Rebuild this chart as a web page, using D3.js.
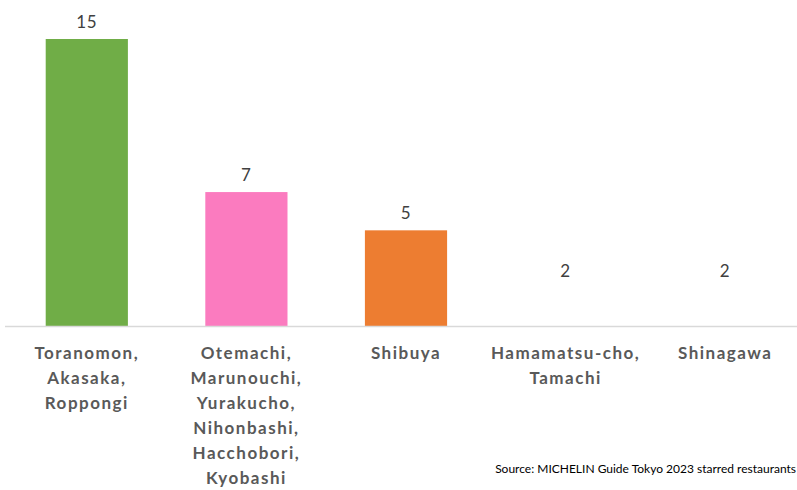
<!DOCTYPE html>
<html>
<head>
<meta charset="utf-8">
<script src="https://cdn.jsdelivr.net/npm/d3@7"></script>
<style>
  html, body { margin: 0; padding: 0; background: #fff; overflow: hidden; }
  svg { display: block; }
</style>
</head>
<body>
<svg id="chart" width="797" height="490"></svg>
<script>
// Starred restaurants by Tokyo area
const areas = [
  ["Toranomon,", "Akasaka,", "Roppongi"],
  ["Otemachi,", "Marunouchi,", "Yurakucho,", "Nihonbashi,", "Hacchobori,", "Kyobashi"],
  ["Shibuya"],
  ["Hamamatsu-cho,", "Tamachi"],
  ["Shinagawa"]
];
const counts = [15, 7, 5, 2, 2];
const barColors = ["#70ad47", "#fb7bbf", "#ed7d31", "none", "none"];
const sourceNote = "Source: MICHELIN Guide Tokyo 2023 starred restaurants";

const W = 797, H = 490;
const baseline = 326;
const svg = d3.select("#chart");

const x = d3.scaleBand()
  .domain(d3.range(counts.length))
  .range([7, 805])
  .paddingInner(0.485)
  .paddingOuter(0.2425);

const y = d3.scaleLinear()
  .domain([0, 15])
  .range([baseline, 39]);

// bars
svg.append("g").selectAll("rect")
  .data(counts)
  .join("rect")
  .attr("x", (d, i) => x(i))
  .attr("y", d => y(d))
  .attr("width", x.bandwidth())
  .attr("height", d => baseline - y(d))
  .attr("fill", (d, i) => barColors[i]);

// value labels
svg.append("g").selectAll("text")
  .data(counts)
  .join("text")
  .attr("x", (d, i) => x(i) + x.bandwidth() / 2)
  .attr("y", d => y(d) - 11)
  .attr("text-anchor", "middle")
  .attr("font-family", "Lato, 'Open Sans', sans-serif")
  .attr("font-size", 17)
  .attr("letter-spacing", 0.8)
  .attr("fill", "#404040")
  .text(d => d);

// category axis
const axis = svg.append("g")
  .attr("transform", `translate(0,${baseline})`)
  .call(d3.axisBottom(x).tickSize(0).tickFormat(""));
axis.select(".domain")
  .attr("d", `M5,0.5H${W}`)
  .attr("stroke", "#d9d9d9")
  .attr("stroke-width", 1.5);

const catLabels = svg.append("g").selectAll("text")
  .data(areas)
  .join("text")
  .attr("x", (d, i) => x(i) + x.bandwidth() / 2)
  .attr("y", 359)
  .attr("text-anchor", "middle")
  .attr("font-family", "Lato, 'Open Sans', sans-serif")
  .attr("font-weight", "bold")
  .attr("font-size", 17)
  .attr("letter-spacing", 1.5)
  .attr("fill", "#595959");
catLabels.selectAll("tspan")
  .data(d => d)
  .join("tspan")
  .attr("x", function() { return d3.select(this.parentNode).attr("x"); })
  .attr("dy", (d, j) => j === 0 ? 0 : 25)
  .text(d => d);

// source note
svg.append("text")
  .attr("x", 796)
  .attr("y", 473)
  .attr("text-anchor", "end")
  .attr("font-family", "Lato, 'Open Sans', sans-serif")
  .attr("font-size", 12)
  .attr("fill", "#000")
  .text(sourceNote);
</script>
</body>
</html>
